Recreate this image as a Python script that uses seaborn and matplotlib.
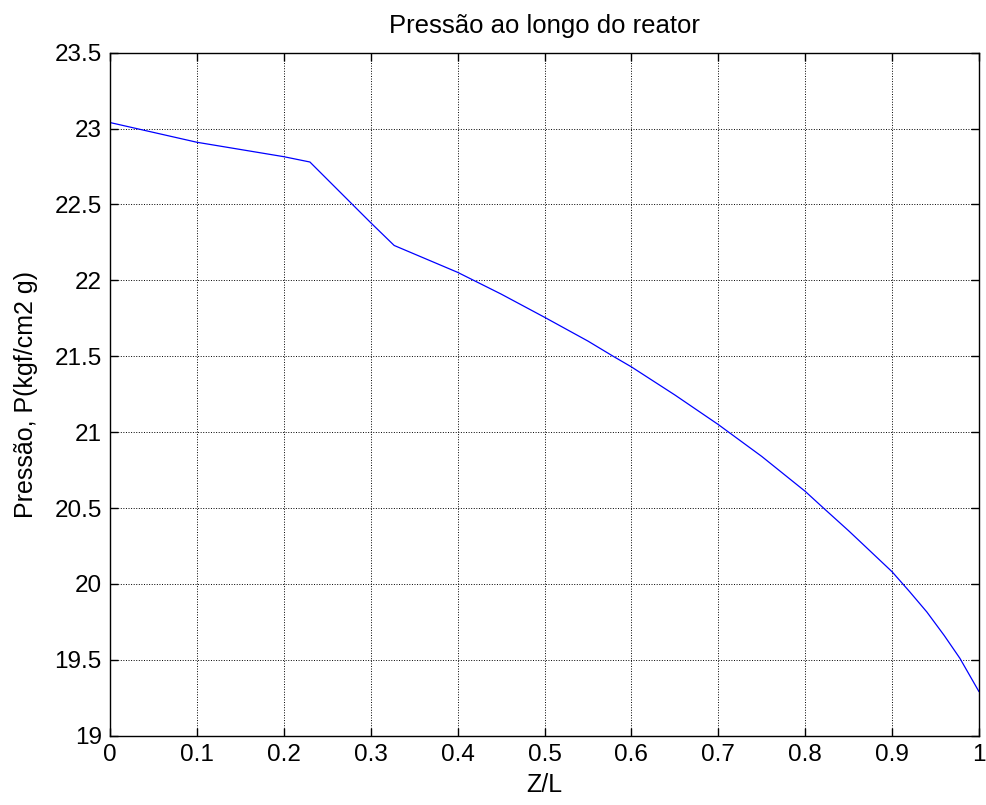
import matplotlib
matplotlib.use("Agg")
import matplotlib.pyplot as plt
import seaborn as sns
import pandas as pd

# Data
z_over_l = [0.0, 0.1, 0.2, 0.23, 0.30, 0.327, 0.4, 0.45, 0.5, 0.55, 0.579, 0.6,
            0.65, 0.7, 0.75, 0.8, 0.821, 0.85, 0.863, 0.9, 0.92, 0.94, 0.96,
            0.978, 1.0]
pressure = [23.04, 22.91, 22.815, 22.78, 22.38, 22.23, 22.053, 21.91, 21.757,
            21.60, 21.5, 21.43, 21.245, 21.05, 20.84, 20.61, 20.5, 20.35, 20.28,
            20.08, 19.95, 19.815, 19.66, 19.51, 19.29]
x_ticks = [0, 0.1, 0.2, 0.3, 0.4, 0.5, 0.6, 0.7, 0.8, 0.9, 1]
x_tick_labels = ["0", "0.1", "0.2", "0.3", "0.4", "0.5", "0.6", "0.7", "0.8", "0.9", "1"]
y_ticks = [19, 19.5, 20, 20.5, 21, 21.5, 22, 22.5, 23, 23.5]
y_tick_labels = ["19", "19.5", "20", "20.5", "21", "21.5", "22", "22.5", "23", "23.5"]

sns.set_style("ticks")
plt.rcParams["font.family"] = ["Liberation Sans", "DejaVu Sans"]
plt.rcParams["text.color"] = "black"
plt.rcParams["axes.labelcolor"] = "black"

df = pd.DataFrame({"z": z_over_l, "p": pressure})

fig = plt.figure(figsize=(9.86, 8.05), dpi=100)
ax = fig.add_axes([0.1116, 0.0861, 0.8813, 0.8484])

sns.lineplot(data=df, x="z", y="p", ax=ax, color="#0000FF", linewidth=0.9)

ax.set_xlim(0, 1)
ax.set_ylim(19, 23.5)
ax.set_xticks(x_ticks)
ax.set_xticklabels(x_tick_labels)
ax.set_yticks(y_ticks)
ax.set_yticklabels(y_tick_labels)

ax.grid(True, linestyle=":", color="black", linewidth=0.7)
ax.tick_params(direction="in", length=6, width=1, top=True, right=True,
               labelsize=17.5, colors="black", pad=6)
for s in ax.spines.values():
    s.set_visible(True)
    s.set_color("black")
    s.set_linewidth(1.0)

ax.set_xlabel("Z/L", fontsize=18, labelpad=5, color="black")
ax.set_ylabel("Pressão, P(kgf/cm2 g)", fontsize=18, labelpad=12, color="black")
ax.set_title("Pressão ao longo do reator", fontsize=18.5, pad=14, color="black")

fig.savefig("out.png", dpi=100)
